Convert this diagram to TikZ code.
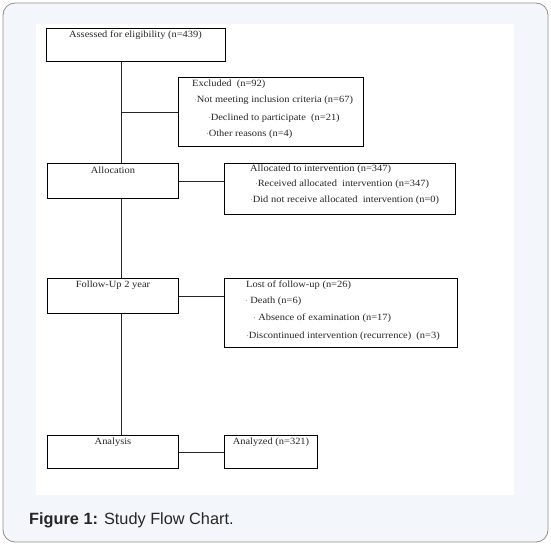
\documentclass[tikz,border=0pt]{standalone}
\usepackage{fontspec}
\setmainfont{Liberation Serif}[FakeStretch=1.1]
\newfontfamily\capfont{Liberation Sans}
\definecolor{panel}{HTML}{F3F6FA}
\definecolor{panelline}{HTML}{8E8E8E}
\begin{document}
\begin{tikzpicture}[x=1pt,y=-1pt,
  box/.style={draw=black,line width=0.9pt,inner sep=0pt,anchor=north west},
  txt/.style={inner sep=0pt,anchor=west,font=\fontsize{9.5}{11}\selectfont,text=black!85},
  ctxt/.style={inner sep=0pt,anchor=center,font=\fontsize{9.5}{11}\selectfont,text=black!85},
  link/.style={draw=black!85,line width=0.8pt}]
\useasboundingbox (0,0) rectangle (551,545);
% panel
\draw[panelline,fill=panel,line width=0.8pt,rounded corners=12pt] (3,3) rectangle (548,542);
\fill[white] (36,24) rectangle (514,495);
% boxes
\node[box,minimum width=179pt,minimum height=33pt] (assess) at (46,28) {};
\node[box,minimum width=185pt,minimum height=69pt] (excl) at (178,77) {};
\node[box,minimum width=131pt,minimum height=35pt] (alloc) at (47,163) {};
\node[box,minimum width=231pt,minimum height=51pt] (allocd) at (224,163) {};
\node[box,minimum width=131pt,minimum height=35pt] (follow) at (47,278) {};
\node[box,minimum width=233pt,minimum height=69pt] (lost) at (224,278) {};
\node[box,minimum width=131pt,minimum height=33pt] (analysis) at (47,435) {};
\node[box,minimum width=93pt,minimum height=33pt] (analyzed) at (224,435) {};
% spine
\coordinate (spine) at (121,0);
\draw[link] (assess.south -| spine) -- (alloc.north -| spine);
\draw[link] (excl.west -| spine) -- (excl.west);
\draw[link] (alloc.south -| spine) -- (follow.north -| spine);
\draw[link] (follow.south -| spine) -- (analysis.north -| spine);
\draw[link] (alloc.east) -- (alloc.east -| allocd.west);
\draw[link] (follow.east) -- (follow.east -| lost.west);
\draw[link] (analysis.east) -- (analysis.east -| analyzed.west);
% texts
\node[ctxt] (t1) at (135.5,35.5) {Assessed for eligibility (n=439)};
\node[txt] (t2) at (192,84) {Excluded\ \ (n=92)};
\node[txt] (t3) at (194,100.5) {$\cdot$Not meeting inclusion criteria (n=67)};
\node[txt] (t4) at (208,118) {$\cdot$Declined to participate\ \ (n=21)};
\node[txt] (t5) at (206,134) {$\cdot$Other reasons (n=4)};
\node[ctxt] (t6) at (113,170) {Allocation};
\node[txt] (t7) at (250,169.5) {Allocated to intervention (n=347)};
\node[txt] (t8) at (255,184.5) {$\cdot$Received allocated\ \ intervention (n=347)};
\node[txt] (t9) at (250,200) {$\cdot$Did not receive allocated\ \ intervention (n=0)};
\node[ctxt] (t10) at (113,285) {Follow-Up 2 year};
\node[txt] (t11) at (246,285) {Lost of follow-up (n=26)};
\node[txt] (t12) at (245,301.5) {$\cdot$ Death (n=6)};
\node[txt] (t13) at (253,318) {$\cdot$ Absence of examination (n=17)};
\node[txt] (t14) at (246,336) {$\cdot$Discontinued intervention (recurrence)\ \ (n=3)};
\node[ctxt] (t15) at (113,442.5) {Analysis};
\node[ctxt] (t16) at (271,442.5) {Analyzed (n=321)};
% caption
\node[inner sep=0pt,anchor=west,font=\capfont\fontsize{16.3}{19}\selectfont,text=black!85] (cap) at (29,520) {\textbf{Figure 1:} Study Flow Chart.};
\end{tikzpicture}
\end{document}
